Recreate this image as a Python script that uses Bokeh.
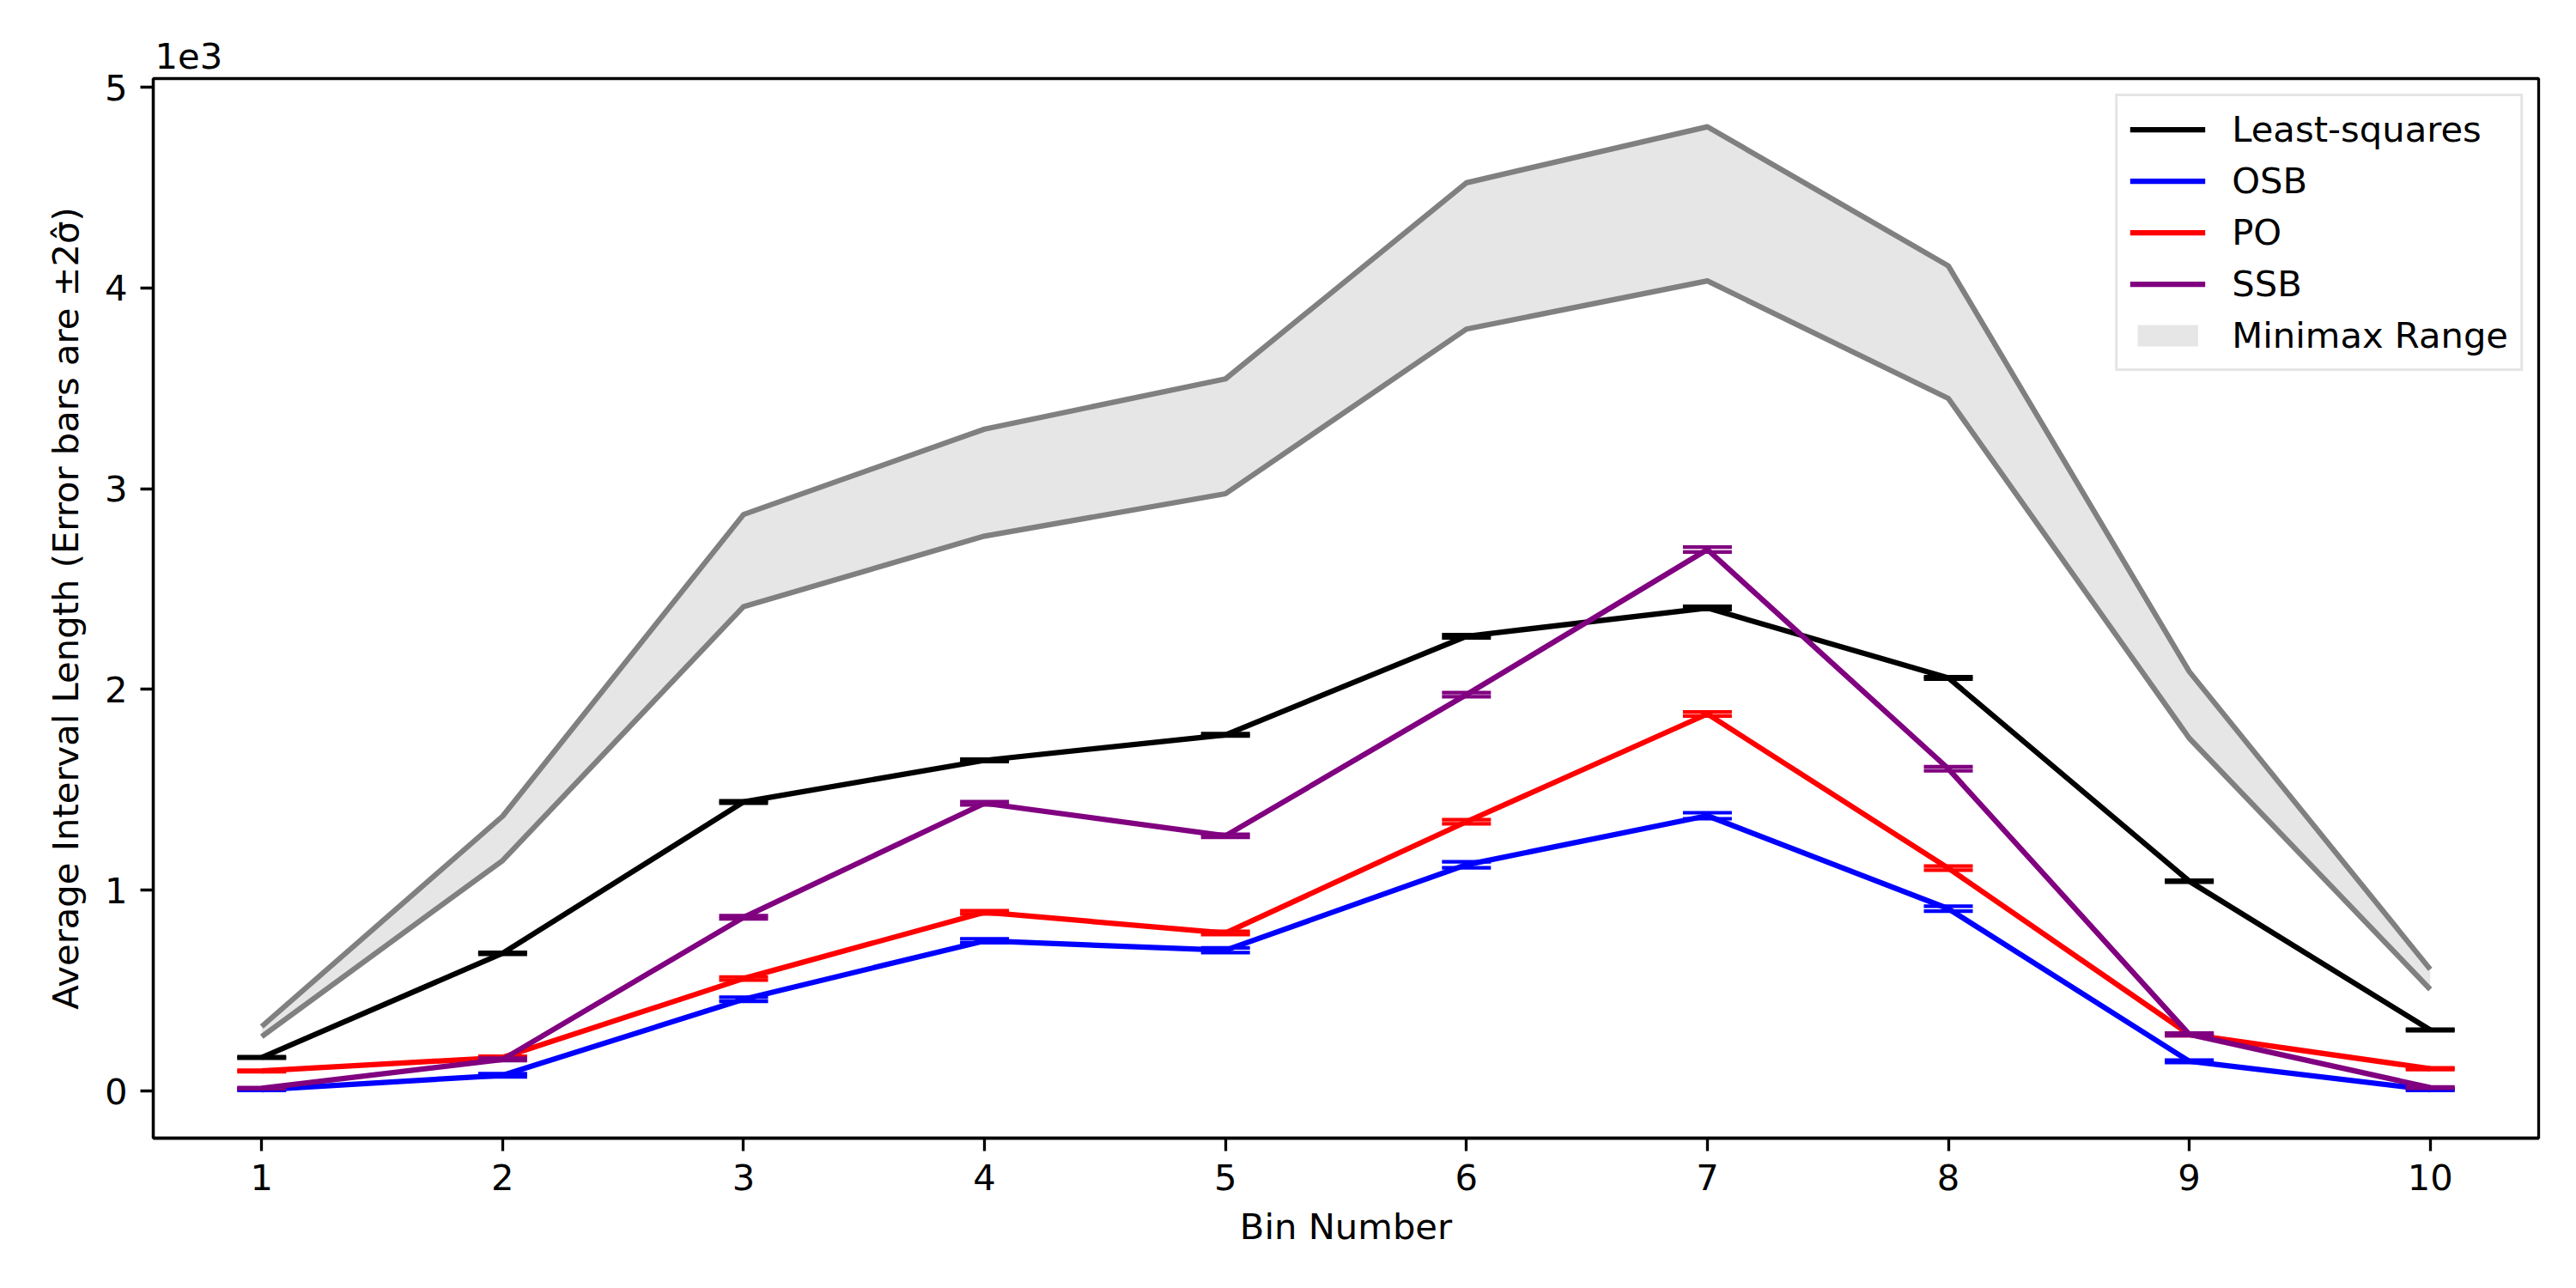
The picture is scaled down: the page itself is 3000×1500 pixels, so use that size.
from bokeh.plotting import figure
from bokeh.models import Range1d, FixedTicker, Legend, LegendItem
from bokeh.embed import file_html
from bokeh.resources import INLINE

# ---------------- data ----------------
bins = [1, 2, 3, 4, 5, 6, 7, 8, 9, 10]
least_squares = [167, 686, 1440, 1647, 1774, 2265, 2406, 2058, 1045, 304]
osb = [6, 78, 457, 748, 701, 1127, 1371, 908, 148, 6]
po = [100, 167, 560, 890, 787, 1341, 1878, 1110, 282, 111]
ssb = [14, 157, 865, 1433, 1271, 1974, 2697, 1605, 282, 17]
minimax_hi = [321, 1369, 2872, 3297, 3547, 4524, 4803, 4110, 2089, 606]
minimax_lo = [271, 1148, 2413, 2764, 2975, 3795, 4035, 3450, 1757, 506]

# +/- 2 sigma-hat half-lengths
ls_err = [4, 5, 6, 6, 6, 8, 8, 6, 5, 4]
osb_err = [3, 8, 10, 10, 12, 15, 15, 12, 6, 3]
po_err = [4, 6, 8, 8, 8, 10, 10, 10, 6, 4]
ssb_err = [3, 6, 8, 8, 8, 10, 12, 10, 6, 3]

y_ticks = [0, 1000, 2000, 3000, 4000, 5000]
y_tick_labels = ["0", "1", "2", "3", "4", "5"]

FONT = "DejaVu Sans"
FS = "41.7px"
LW = 6.25
SPINE = 3.3

p = figure(width=2980, height=1480, output_backend="svg", toolbar_location=None,
           x_range=Range1d(0.55, 10.45), y_range=Range1d(-235, 5043),
           min_border_left=178, min_border_right=24, min_border_top=91,
           min_border_bottom=155)
p.grid.visible = False
p.outline_line_color = "black"
p.outline_line_width = SPINE
p.outline_line_alpha = 1.0
p.background_fill_color = "white"
p.border_fill_color = "white"

# offset text of the y axis
p.title.text = "1e3"
p.title.align = "left"
p.title.text_font = FONT
p.title.text_font_size = FS
p.title.text_font_style = "normal"
p.title.text_color = "black"
p.title.standoff = 24
p.title.offset = 2

# Minimax band
r_band = p.varea(x=bins, y1=minimax_lo, y2=minimax_hi, fill_color="gray", fill_alpha=0.2)
p.line(bins, minimax_hi, line_color="gray", line_width=LW, line_join="round")
p.line(bins, minimax_lo, line_color="gray", line_width=LW, line_join="round")

renderers = {}
series = [("Least-squares", least_squares, ls_err, "black"),
          ("OSB", osb, osb_err, "blue"),
          ("PO", po, po_err, "red"),
          ("SSB", ssb, ssb_err, "purple")]
for name, vals, errs, col in series:
    lo = [v - e for v, e in zip(vals, errs)]
    hi = [v + e for v, e in zip(vals, errs)]
    r = p.line(bins, vals, line_color=col, line_width=LW, line_join="round")
    p.segment(x0=bins, y0=lo, x1=bins, y1=hi, line_color=col, line_width=LW)
    p.scatter(bins, lo, marker="dash", size=57, line_color=col, line_width=4.2)
    p.scatter(bins, hi, marker="dash", size=57, line_color=col, line_width=4.2)
    renderers[name] = r

legend = Legend(items=[LegendItem(label=n, renderers=[renderers[n]]) for n, _, _, _ in series]
                + [LegendItem(label="Minimax Range", renderers=[r_band])],
                location="top_right")
legend.label_text_font = FONT
legend.label_text_font_size = FS
legend.label_text_color = "black"
legend.glyph_width = 88
legend.glyph_height = 31
legend.label_height = 40
legend.spacing = 11
legend.padding = 14
legend.margin = 18
legend.label_standoff = 31
legend.border_line_color = "#cccccc"
legend.border_line_width = 3.3
legend.background_fill_alpha = 0.8
p.add_layout(legend)

# axes
for ax in (p.xaxis, p.yaxis):
    ax.axis_line_width = SPINE
    ax.major_tick_line_width = SPINE
    ax.major_tick_in = 0
    ax.major_tick_out = 15
    ax.minor_tick_line_color = None
    ax.major_label_text_font = FONT
    ax.major_label_text_font_size = FS
    ax.major_label_text_color = "black"
    ax.axis_label_text_font = FONT
    ax.axis_label_text_font_size = FS
    ax.axis_label_text_font_style = "normal"
    ax.axis_label_text_color = "black"
    ax.major_label_standoff = 15

p.xaxis.ticker = FixedTicker(ticks=bins)
p.xaxis.axis_label = "Bin Number"
p.xaxis.axis_label_standoff = 15

p.yaxis.ticker = FixedTicker(ticks=y_ticks)
p.yaxis.major_label_overrides = {t: l for t, l in zip(y_ticks, y_tick_labels)}
p.yaxis.axis_label = "Average Interval Length (Error bars are \u00b12\u03c3\u0302)"
p.yaxis.axis_label_standoff = 18

open("out.html", "w").write(file_html(p, INLINE))
